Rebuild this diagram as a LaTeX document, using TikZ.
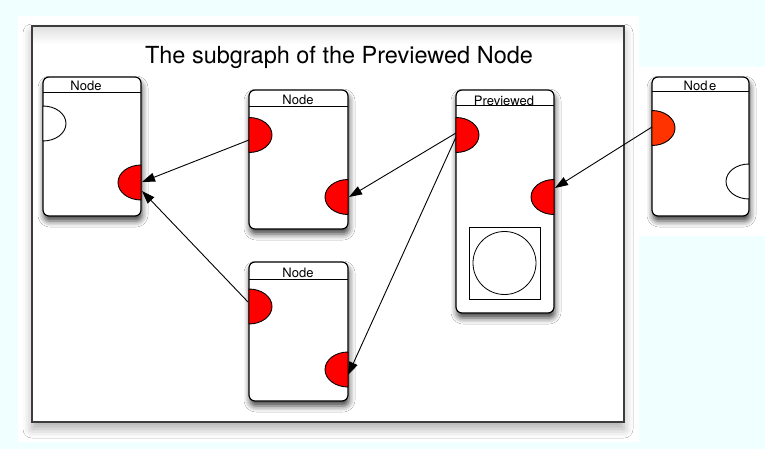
\documentclass[tikz,border=0pt]{standalone}
\usepackage{fontspec}
\setmainfont{TeX Gyre Heros}
\usetikzlibrary{arrows.meta,shadows.blur}

\definecolor{sky}{HTML}{F0FFFF}
\definecolor{portred}{HTML}{FF0000}
\definecolor{portorange}{HTML}{FF3300}
\definecolor{framegray}{HTML}{3C3C3C}

\tikzset{
  card/.style={draw=black, line width=1.2pt, fill=white, rounded corners=6pt,
    blur shadow={shadow xshift=1pt, shadow yshift=-5pt, shadow blur radius=6pt,
      shadow opacity=75}},
  header/.style={line width=1pt},
  cardtitle/.style={font=\fontsize{13}{15}\selectfont, anchor=base, inner sep=0pt},
  port/.style={draw=black, line width=0.9pt},
  link/.style={draw=black, line width=0.9pt, -{Triangle[length=13pt,width=9pt]}},
}

% half-ellipse ports: bulging into the card from its left or right edge
\newcommand{\portleft}[4]{% x, centre y, fill, name
  \path[port, fill=#3] (#1,#2-17.5) arc[start angle=-90, end angle=90, x radius=23, y radius=17.5] -- cycle;
  \coordinate (#4) at (#1,#2);}
\newcommand{\portright}[4]{%
  \path[port, fill=#3] (#1,#2-17.5) arc[start angle=-90, end angle=-270, x radius=23, y radius=17.5] -- cycle;
  \coordinate (#4) at (#1,#2);}

\begin{document}
\begin{tikzpicture}[x=1pt, y=-1pt]
  \useasboundingbox (0,0) rectangle (765,449);
  \fill[sky] (0,0) rectangle (765,449);
  \fill[white] (18,16) rectangle (639,442);
  \fill[white] (639,67) rectangle (765,236);

  % outer frame
  \path[fill=white, blur shadow={shadow xshift=0pt, shadow yshift=-7pt,
      shadow blur radius=9pt, shadow opacity=32}] (32,26) rectangle (624,422);
  \shade[top color=black!12, bottom color=white] (33,27) rectangle (623,44);
  \draw[framegray, line width=1.4pt] (32,26) rectangle (624,422);

  \node[anchor=base, inner sep=0pt, font=\fontsize{23.5}{26}\selectfont] (title) at (339,64)
    {The subgraph of the Previewed Node};

  % left card
  \path[card] (43,77) rectangle (141,216);
  \draw[header] (43,93) -- (141,93);
  \node[cardtitle] (tL) at (86,90.5) {Node};
  \portleft{43}{123.5}{white}{L-in}
  \portright{141}{182.5}{portred}{L-out}

  % middle top card
  \path[card] (249,90) rectangle (348,229);
  \draw[header] (249,107) -- (348,107);
  \node[cardtitle] (tMT) at (298,104.5) {Node};
  \portleft{249}{135}{portred}{MT-in}
  \portright{348}{197}{portred}{MT-out}

  % middle bottom card
  \path[card] (249,262) rectangle (348,401);
  \draw[header] (249,279) -- (348,279);
  \node[cardtitle] (tMB) at (298,277.5) {Node};
  \portleft{249}{306.5}{portred}{MB-in}
  \portright{348}{369.5}{portred}{MB-out}

  % previewed card
  \path[card] (456,90) rectangle (554,313);
  \draw[header] (456,106) -- (554,106);
  \node[cardtitle] (tP) at (504,106) {Previewed};
  \portleft{456}{135}{portred}{P-in}
  \portright{554}{197}{portred}{P-out}
  \draw[line width=0.8pt] (469,227) rectangle (540,299);
  \node[draw, line width=0.8pt, circle, minimum size=63pt, inner sep=0pt] (preview) at (504.5,263) {};

  % right card
  \path[card] (652,77) rectangle (749,216);
  \draw[header] (652,92) -- (749,92);
  \node[cardtitle] (tR) at (700,90.5) {Nod\hspace{1.5pt}e};
  \portleft{652}{128}{portorange}{R-in}
  \portright{749}{181.5}{white}{R-out}

  % arrow end points on the card edges
  \coordinate (a1s) at (249,140);  \coordinate (a1e) at (142,182);
  \coordinate (a2s) at (248,302);  \coordinate (a2e) at (142,191);
  \coordinate (a3s) at (456,133);  \coordinate (a3e) at (349,197);
  \coordinate (a4s) at (456,137);  \coordinate (a4e) at (348,375);
  \coordinate (a5s) at (652,127);  \coordinate (a5e) at (555,188);

  \draw[link] (a1s) -- (a1e);
  \draw[link] (a2s) -- (a2e);
  \draw[link] (a3s) -- (a3e);
  \draw[link] (a4s) -- (a4e);
  \draw[link] (a5s) -- (a5e);
\end{tikzpicture}
\end{document}
